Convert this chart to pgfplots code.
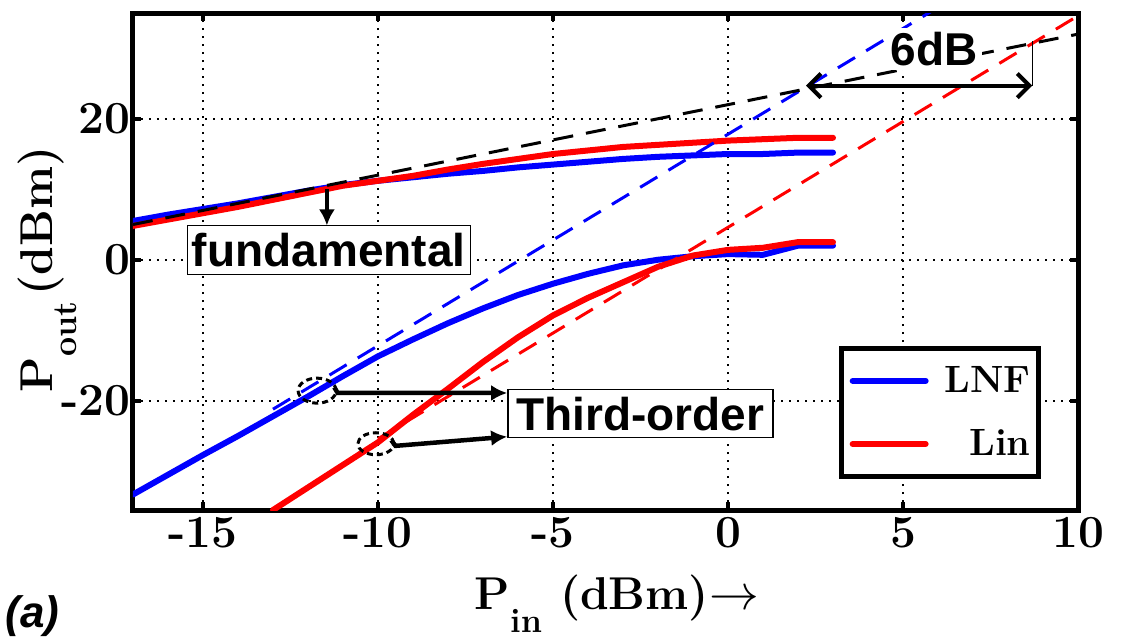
\documentclass[border=0pt]{standalone}
\usepackage{fontspec}
\usepackage{pgfplots}
\usepackage{pgfplotstable}
\pgfplotsset{compat=1.18}
\usetikzlibrary{arrows.meta}
\newfontfamily\arial{Liberation Sans}

\pgfplotstableread{
x y
-17 5.5
-16 6.4
-15 7.2
-14 8.0
-13 8.9
-12 9.8
-11 10.6
-10 11.2
-9 11.7
-8 12.2
-7 12.6
-6 13.1
-5 13.5
-4 13.9
-3 14.3
-2 14.6
-1 14.8
0 15.0
1 15.0
2 15.2
3 15.2
}\lnffund

\pgfplotstableread{
x y
-17 4.8
-16 5.7
-15 6.6
-14 7.5
-13 8.5
-12 9.5
-11 10.5
-10 11.2
-9 11.9
-8 12.8
-7 13.6
-6 14.3
-5 15.0
-4 15.5
-3 16.0
-2 16.3
-1 16.6
0 16.9
1 17.1
2 17.3
3 17.3
}\linfund

\pgfplotstableread{
x y
-17 -33.3
-16 -30.5
-15 -27.7
-14 -25.0
-13 -22.2
-12 -19.4
-11 -16.5
-10 -13.7
-9 -11.3
-8 -9.0
-7 -6.9
-6 -5.0
-5 -3.4
-4 -2.0
-3 -0.8
-2 0.0
-1 0.5
0 0.8
1 0.7
2 2.0
3 2.0
}\lnfthird

\pgfplotstableread{
x y
-13 -35.5
-12 -32.3
-11 -29.1
-10 -25.9
-9 -22.0
-8 -18.3
-7 -14.5
-6 -11.0
-5 -7.9
-4 -5.4
-3 -3.2
-2 -1.0
-1 0.6
0 1.4
1 1.7
2 2.5
3 2.5
}\linthird

\begin{document}
\begin{tikzpicture}
\path[use as bounding box] (-66.5pt,-64.5pt) rectangle (495.5pt,255pt);
\begin{axis}[
  at={(0,0)}, anchor=south west,
  scale only axis, width=472.5pt, height=248.5pt,
  xmin=-17, xmax=10, ymin=-35.5, ymax=35,
  xtick={-15,-10,-5,0,5,10}, xticklabels={-15,-10,-5,0,5,10},
  ytick={-20,0,20}, yticklabels={-20,0,20},
  ticklabel style={font=\fontsize{23}{27}\selectfont\bfseries},
  yticklabel style={inner xsep=1pt},
  grid=major,
  major grid style={black, line width=1pt, dash pattern=on 1pt off 3pt},
  tick align=inside, major tick length=4pt,
  tick style={black, line width=2pt},
  axis line style={line width=2.5pt},
  label style={font=\fontsize{23}{27}\selectfont\bfseries},
  xlabel={P\raisebox{-11.5pt}{\fontsize{17}{17}\selectfont in}\hspace{9pt}(dBm)$\rightarrow$},
  ylabel={P\raisebox{-12pt}{\fontsize{17}{17}\selectfont out}\hspace{3pt}(dBm)},
  xlabel style={at={(axis description cs:0.512,-0.201)}, anchor=base},
  ylabel style={at={(axis description cs:-0.0847,0.484)}, anchor=base},
  legend image code/.code={\draw[#1] (0pt,0pt) -- (36.5pt,0pt);},
  legend style={at={(rel axis cs:0.961,0.0624)}, anchor=south east,
    draw=black, line width=2.5pt, fill=white,
    font=\fontsize{19}{23}\selectfont\bfseries,
    inner xsep=4pt, inner ysep=9pt,
    nodes={inner sep=0pt}, column sep=8pt, row sep=17pt,
    cells={anchor=east}},
  legend cell align=right,
]
\addplot[blue, line width=3pt, line cap=round, line join=round] table {\lnffund};
\addlegendentry{LNF}
\addplot[red, line width=3pt, line cap=round, line join=round] table {\linfund};
\addlegendentry{Lin}
\addplot[forget plot, blue, line width=3pt, line cap=round, line join=round] table {\lnfthird};
\addplot[forget plot, red, line width=3pt, line cap=round, line join=round] table {\linthird};
% extrapolation lines
\addplot[forget plot, blue, line width=1.5pt, dash pattern=on 10pt off 6.5pt] coordinates {(-13,-21.2) (6,35.8)};
\addplot[forget plot, red, line width=1.5pt, dash pattern=on 10pt off 6.5pt] coordinates {(-10,-25.4) (10,34.6)};
\addplot[forget plot, black, line width=1.5pt, dash pattern=on 10pt off 6.5pt] coordinates {(-17,5) (10,32)};
% annotations
\draw[line width=2pt, -{Latex[length=8pt,width=8pt]}] (axis cs:-11.46,10.0) -- (axis cs:-11.46,4.86);
\node[draw=black, line width=0.6pt, fill=white, inner sep=0pt, minimum width=141.5pt, minimum height=24.5pt, font=\arial\bfseries\fontsize{23}{27}\selectfont] at (axis cs:-11.41,1.36) {fundamental};
\draw[black, line width=1.5pt, dash pattern=on 3pt off 2pt] (axis cs:-11.74,-18.57) ellipse [x radius=9.5pt, y radius=6.25pt];
\draw[black, line width=1.5pt, dash pattern=on 3pt off 2pt] (axis cs:-10.06,-26.1) ellipse [x radius=9pt, y radius=5.5pt];
\draw[line width=2.25pt, -{Latex[length=8pt,width=8pt]}] (axis cs:-11.25,-18.1) -- (axis cs:-11.15,-18.9) -- (axis cs:-6.31,-18.9);
\draw[line width=2.25pt, -{Latex[length=8pt,width=8pt]}] (axis cs:-9.62,-25.6) -- (axis cs:-9.5,-26.4) -- (axis cs:-6.31,-25.1);
\node[draw=black, line width=0.6pt, fill=white, inner sep=0pt, minimum width=132.5pt, minimum height=24pt, font=\arial\bfseries\fontsize{23}{27}\selectfont] at (axis cs:-2.5,-21.86) {Third-order};
\draw[line width=2pt, {Straight Barb[length=6pt,width=12pt]}-{Straight Barb[length=6pt,width=12pt]}] (axis cs:2.23,24.7) -- (axis cs:8.69,24.7);
\draw[line width=0.5pt] (axis cs:8.69,24.7) -- (axis cs:8.69,31);
\node[fill=white, inner sep=2pt, font=\arial\bfseries\fontsize{23}{27}\selectfont] at (axis cs:5.89,29.86) {6dB};
\end{axis}
\node[anchor=base west, inner sep=0pt, font=\arial\bfseries\itshape\fontsize{22}{26}\selectfont] at (-64pt,-58.75pt) {(a)};
\end{tikzpicture}
\end{document}
